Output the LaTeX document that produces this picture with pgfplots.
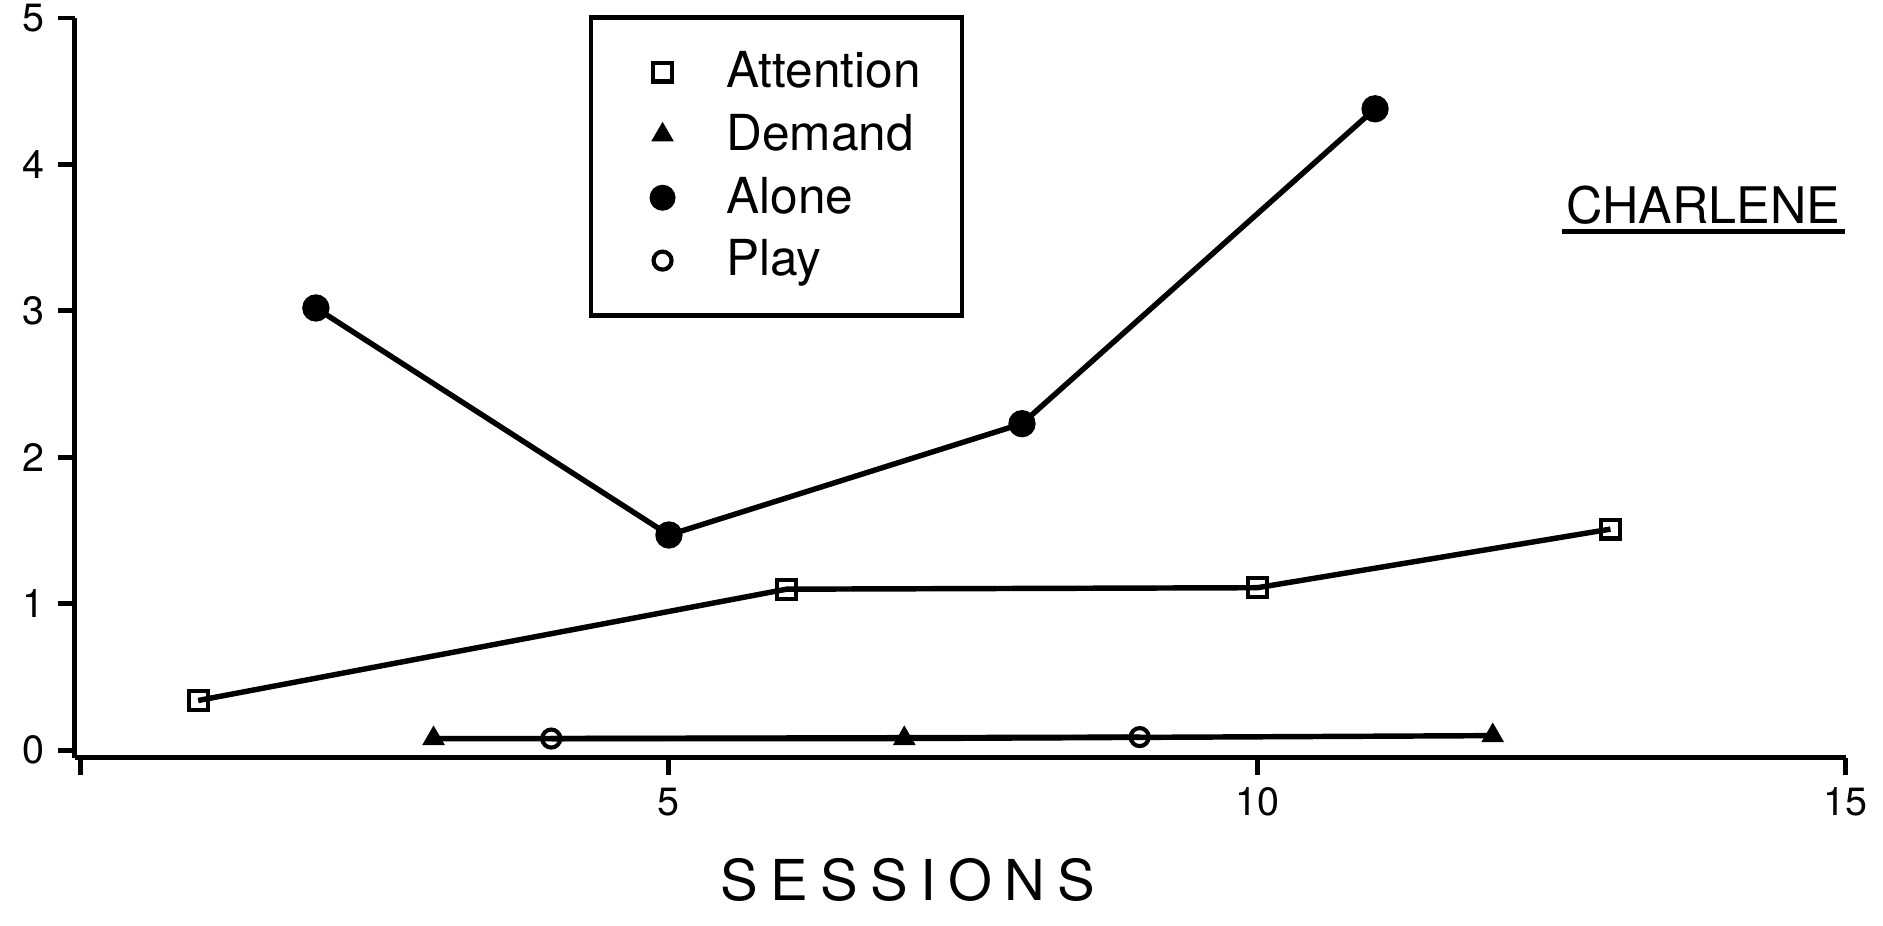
\documentclass[border=0pt]{standalone}
\usepackage{pgfplots}
\pgfplotsset{compat=1.18}
\usepackage{fontspec}
\setmainfont{TeX Gyre Heros}
\newfontfamily\spaced[LetterSpace=22]{TeX Gyre Heros}
\begin{document}
\begin{tikzpicture}
\begin{axis}[
  scale only axis,
  width=471.3pt, height=196.8pt,
  xmin=-0.05, xmax=15, ymin=-0.05, ymax=5,
  axis x line=bottom, axis y line=left,
  axis line style={line width=1.4pt, -},
  xtick={0,5,10,15}, xticklabels={,5,10,15},
  ytick={0,1,2,3,4,5},
  tick style={line width=1.3pt, black},
  tick align=outside,
  major tick length=4.5pt,
  /pgf/number format/assume math mode=true,
  ticklabel style={font=\fontsize{10.5}{12}\selectfont},
  xticklabel style={yshift=0pt},
  clip=false,
  legend cell align=left,
  legend style={at={(axis cs:4.32,5.02)}, anchor=north west, draw=black, line width=1.2pt,
    font=\fontsize{13.2}{15}\selectfont, inner xsep=9pt, inner ysep=7pt, row sep=1.6pt},
  legend image code/.code={\path[draw=none,fill=none] (0pt,0pt) -- (25pt,0pt);\draw[#1, only marks, line width=1.1pt] plot coordinates {(10pt,0pt)};},
]
\coordinate (bbsw) at (axis cs:-0.684,-1.195);
\coordinate (bbne) at (axis cs:15.316,5.123);
\addplot[black, line width=1.45pt, mark=square, mark size=2.5pt, mark options={fill=white, line width=1.1pt}]
  coordinates {(1,0.34) (6,1.10) (10,1.11) (13,1.51)};
\addlegendentry{Attention}
\addplot[black, line width=1.45pt, mark=triangle*, mark size=2.9pt, mark options={fill=black, line width=0.6pt}]
  coordinates {(3,0.08) (7,0.08) (12,0.10)};
\addlegendentry{Demand}
\addplot[black, line width=1.45pt, mark=*, mark size=2.9pt, mark options={fill=black}]
  coordinates {(2,3.02) (5,1.47) (8,2.23) (11,4.38)};
\addlegendentry{Alone}
\addplot[black, line width=1.45pt, mark=o, mark size=2.4pt, mark options={fill=white, line width=1.1pt}]
  coordinates {(4,0.08) (9,0.09)};
\addlegendentry{Play}
\node[anchor=base, inner sep=0pt, font=\fontsize{13.4}{15}\selectfont] (ch) at (axis cs:13.79,3.6) {CHARLENE};
\draw[line width=1.4pt] ([xshift=-1pt,yshift=-2.3pt]ch.base west) -- ([xshift=1pt,yshift=-2.3pt]ch.base east);
\node[anchor=center, font=\fontsize{15}{17}\selectfont\spaced] at ([yshift=-32.5pt]axis cs:7.03,-0.05) {SESSIONS};
\end{axis}
\pgfresetboundingbox
\path[use as bounding box] (bbsw) rectangle (bbne);
\end{tikzpicture}
\end{document}
